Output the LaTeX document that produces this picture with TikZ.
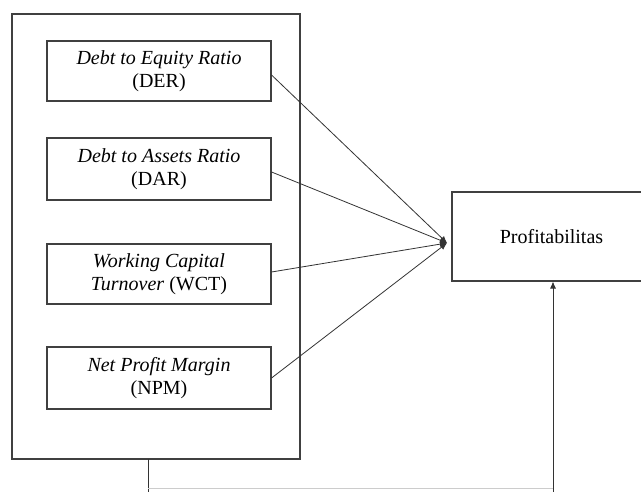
\documentclass[tikz,border=0pt]{standalone}
\usepackage{fontspec}
\setmainfont{Liberation Serif}
\usetikzlibrary{arrows.meta}
\tikzset{
  varbox/.style={draw=black!75, line width=1.1pt, minimum width=224pt, minimum height=60pt, align=center, inner sep=2pt, font=\fontsize{20}{23}\selectfont},
  link/.style={draw=black!80, line width=0.8pt, -{Latex[length=7pt,width=6pt]}},
}
\begin{document}
\begin{tikzpicture}[x=1pt,y=-1pt]
\useasboundingbox (0,0) rectangle (641,492);
\clip (0,0) rectangle (641,492);
\fill[white] (0,0) rectangle (641,492);
\node[draw=black!75, line width=1.1pt, minimum width=288pt, minimum height=445pt, inner sep=0pt] (outer) at (156,236.5) {};
\node[varbox] (der) at (159,71) {\textit{Debt to Equity Ratio}\\(DER)};
\node[varbox, minimum height=62pt] (dar) at (159,169) {\textit{Debt to Assets Ratio}\\(DAR)};
\node[varbox] (wct) at (159,274) {\textit{Working Capital}\\\textit{Turnover} (WCT)};
\node[varbox, minimum height=62pt] (npm) at (159,378) {\textit{Net Profit Margin}\\(NPM)};
\node[draw=black!75, line width=1.1pt, minimum width=199pt, minimum height=89pt, font=\fontsize{20}{23}\selectfont] (prof) at (551.5,236.5) {Profitabilitas};
\coordinate (m) at (447,243);
\draw[link] (der.east) ++(0,4) -- (m);
\draw[link] (dar.east) ++(0,3) -- (m);
\draw[link] (wct.east) ++(0,-2) -- (m);
\draw[link] (npm.east) -- (m);
\coordinate (b1) at (148,488);
\coordinate (b2) at (553,488);
\draw[black!80, line width=0.9pt] (148,459) -- (148,495);
\draw[black!20, line width=0.6pt] (b1) -- (b2);
\draw[link] (553,495) -- (prof.south -| 553,0);
\end{tikzpicture}
\end{document}
